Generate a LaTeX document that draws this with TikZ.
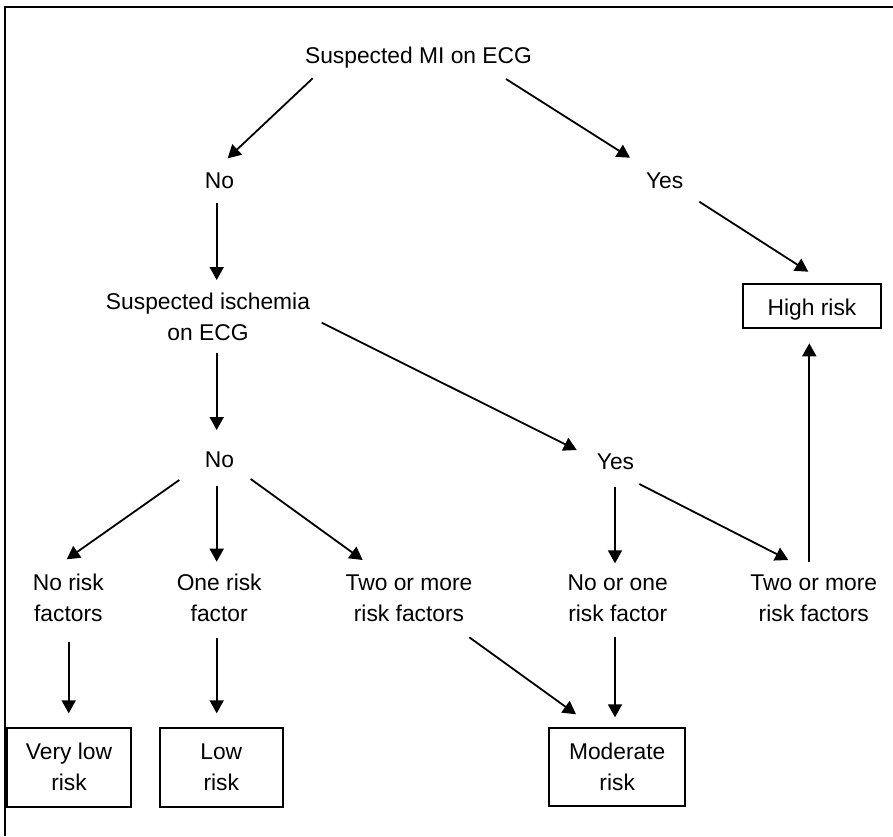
\documentclass[tikz,border=0pt]{standalone}
\usepackage{fontspec}
\setmainfont{Liberation Sans}
\usetikzlibrary{arrows.meta,calc}
\begin{document}
\begin{tikzpicture}[x=1pt,y=-1pt,
  txt/.style={font=\fontsize{22.8}{31}\selectfont, align=center, inner sep=0pt},
  rbox/.style={txt, draw, line width=1.8pt},
  arr/.style={line width=1.8pt, -{Triangle[length=13pt,width=14pt]}},
  frameline/.style={line width=2pt}]
\useasboundingbox (0,0) rectangle (893,836);
\draw[frameline] (893,7) -- (5,7) -- (5,836);

\node[txt] (mi) at (418.5,57.3) {Suspected MI on ECG};
\node[txt] (no1) at (219.5,180.8) {No};
\node[txt] (yes1) at (664.7,180.8) {Yes};
\node[rbox, minimum width=137.4pt, minimum height=44.3pt, text height=19pt, text depth=0pt] (high) at (812,306.2) {High risk};
\node[txt] (isch) at (208,317.3) {Suspected ischemia\\on ECG};
\node[txt] (no2) at (219.5,460.1) {No};
\node[txt] (yes2) at (615.5,461.8) {Yes};
\node[txt] (nrf) at (68.3,598.1) {No risk\\factors};
\node[txt] (orf) at (219.2,598.1) {One risk\\factor};
\node[txt] (tm1) at (409,598.1) {Two or more\\risk factors};
\node[txt] (noone) at (617.7,598) {No or one\\risk factor};
\node[txt] (tm2) at (813.8,598) {Two or more\\risk factors};
\node[rbox, minimum width=123.4pt, minimum height=79pt] (vlow) at (69,767.2) {Very low\\risk};
\node[rbox, minimum width=122.7pt, minimum height=79pt] (low) at (221.3,767.2) {Low\\risk};
\node[rbox, minimum width=135.7pt, minimum height=77.7pt] (mod) at (617.2,767.2) {Moderate\\risk};

\draw[arr] ($(mi)+(-105.8,21)$) -- ($(no1)+(8.2,-22.5)$);
\draw[arr] ($(mi)+(87.5,21.7)$) -- ($(yes1)+(-34.7,-23.1)$);
\draw[arr] ($(no1)+(-2.8,22.5)$) -- ($(isch)+(8.7,-37.3)$);
\draw[arr] ($(yes1)+(34.6,20.9)$) -- ($(high)+(-3.7,-34.5)$);
\draw[arr] ($(tm2)+(-4.5,-36.3)$) -- ($(high)+(-2.7,37.1)$);
\draw[arr] ($(isch)+(113.7,5.4)$) -- ($(yes2)+(-38.8,-11.8)$);
\draw[arr] ($(isch)+(8.7,36)$) -- ($(no2)+(-2.8,-30.1)$);
\draw[arr] ($(no2)+(-40.2,19.9)$) -- ($(nrf)+(-1.6,-38.8)$);
\draw[arr] ($(no2)+(-2.8,25.6)$) -- ($(orf)+(-2.5,-36.4)$);
\draw[arr] ($(no2)+(31.2,18.9)$) -- ($(tm1)+(-46.3,-38.1)$);
\draw[arr] ($(yes2)+(-0.5,25.5)$) -- ($(noone)+(-2.7,-34.7)$);
\draw[arr] ($(yes2)+(23.8,22.2)$) -- ($(tm2)+(-25.5,-38)$);
\draw[arr] ($(tm1)+(60.3,39.2)$) -- ($(mod)+(-41.2,-52.9)$);
\draw[arr] ($(noone)+(-2.7,39.3)$) -- ($(mod)+(-2.2,-49.9)$);
\draw[arr] ($(nrf)+(0.4,43.6)$) -- ($(vlow)+(-0.3,-53.9)$);
\draw[arr] ($(orf)+(-2.5,40.2)$) -- ($(low)+(-4.6,-53.9)$);
\end{tikzpicture}
\end{document}
